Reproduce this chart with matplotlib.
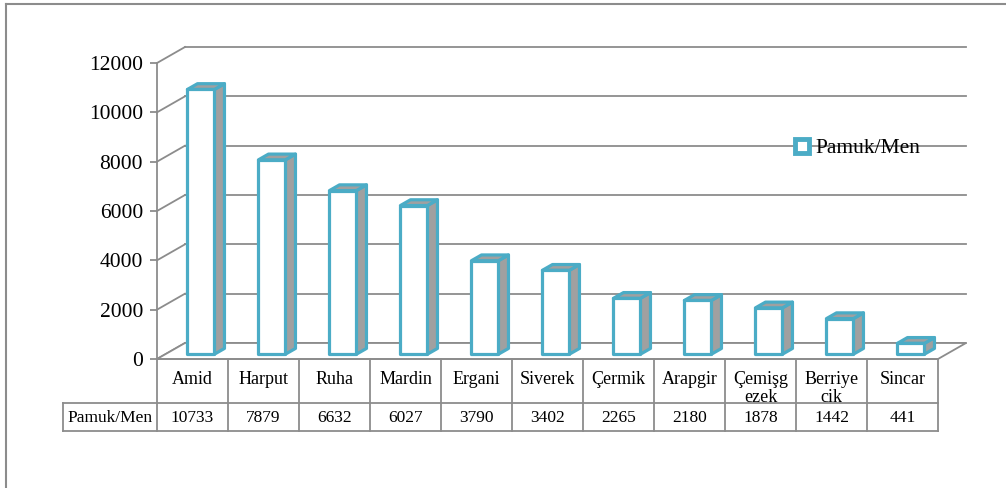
"""
Pamuk/Men bar chart with an Excel-like 3D look and a data table below.
"""

import matplotlib
matplotlib.use("Agg")
import matplotlib.pyplot as plt
from matplotlib.patches import Rectangle, Polygon
from matplotlib.lines import Line2D
from matplotlib.transforms import blended_transform_factory

plt.rcParams["font.family"] = ["Liberation Serif", "DejaVu Serif"]

categories = ["Amid", "Harput", "Ruha", "Mardin", "Ergani", "Siverek", "Çermik",
              "Arapgir", "Çemişg\nezek", "Berriye\ncik", "Sincar"]
values = [10733, 7879, 6632, 6027, 3790, 3402, 2265, 2180, 1878, 1442, 441]
series_name = "Pamuk/Men"
yticks = [0, 2000, 4000, 6000, 8000, 10000, 12000]

W, H = 1006, 488
EDGE = "#4BACC6"
SIDE = "#A0A0A0"
GRID = "#8C8C8C"

fig = plt.figure(figsize=(W / 100, H / 100), dpi=100)
# plot area in pixels: x 157..938, y 63..359 (from top)
ax = fig.add_axes([157 / W, (H - 359) / H, (938 - 157) / W, (359 - 63) / H])
n = len(values)
ax.set_xlim(-0.5, n - 0.5)
ax.set_ylim(0, 12000)
ax.set_yticks(yticks)
ax.set_yticklabels([str(t) for t in yticks], fontsize=15.5)
ax.set_xticks([])
for s in ["top", "right", "bottom"]:
    ax.spines[s].set_visible(False)
ax.spines["left"].set_color(GRID)
ax.spines["left"].set_linewidth(1.3)
ax.tick_params(axis="y", length=5, width=1.3, color=GRID, pad=5)
ax.patch.set_visible(False)

# depth of the 3D box in data units
DX = 28 / 71
DY = 16 * 12000 / 296

# back wall gridlines and side wall diagonals
for t in yticks:
    ax.plot([-0.5 + DX, n - 0.5 + DX], [t + DY, t + DY], color=GRID, lw=1.3,
            clip_on=False, zorder=1)
    ax.plot([-0.5, -0.5 + DX], [t, t + DY], color=GRID, lw=1.3, clip_on=False, zorder=1)

# floor
floor = Polygon([(-0.5, 0), (-0.5 + DX, DY), (n - 0.5 + DX, DY), (n - 0.5, 0)],
                closed=True, facecolor="white", edgecolor=GRID, lw=1.3,
                clip_on=False, zorder=1)
ax.add_patch(floor)

# 3D bars
bw = 0.38
d0, dd = 0.3, 0.36
for i, v in enumerate(values):
    x0 = i - bw / 2 + d0 * DX
    y0 = d0 * DY
    ex, ey = dd * DX, dd * DY
    side = Polygon([(x0 + bw, y0), (x0 + bw + ex, y0 + ey), (x0 + bw + ex, y0 + ey + v),
                    (x0 + bw, y0 + v)], closed=True, facecolor=SIDE, edgecolor=EDGE,
                   lw=2.3, joinstyle="round", clip_on=False, zorder=3)
    top = Polygon([(x0, y0 + v), (x0 + bw, y0 + v), (x0 + bw + ex, y0 + v + ey),
                   (x0 + ex, y0 + v + ey)], closed=True, facecolor=SIDE, edgecolor=EDGE,
                  lw=2.3, joinstyle="round", clip_on=False, zorder=3)
    front = Rectangle((x0, y0), bw, v, facecolor="white", edgecolor=EDGE, lw=2.3,
                      joinstyle="round", clip_on=False, zorder=4)
    ax.add_patch(side)
    ax.add_patch(top)
    ax.add_patch(front)

# data table below the plot (x in data units, y in figure fraction)
tr = blended_transform_factory(ax.transData, fig.transFigure)
def fy(py):
    return (H - py) / H

row1_top, row1_bot, row2_bot = 359, 403, 431
tcol = "#8C8C8C"
for i in range(n + 1):
    x = i - 0.5
    fig.add_artist(Line2D([x, x], [fy(row1_top), fy(row2_bot)], transform=tr,
                          color=tcol, lw=1.3))
fig.add_artist(Line2D([-0.5, n - 0.5], [fy(row1_top), fy(row1_top)], transform=tr,
                      color=tcol, lw=1.3))
header_left = 63 / W
for py in (row1_bot, row2_bot):
    fig.add_artist(Line2D([header_left, 938 / W], [fy(py), fy(py)], color=tcol, lw=1.3))
fig.add_artist(Line2D([header_left, header_left], [fy(row1_bot), fy(row2_bot)],
                      color=tcol, lw=1.3))

for i, (c, v) in enumerate(zip(categories, values)):
    fig.text(i, fy(371), c, transform=tr, ha="center", va="top", fontsize=13,
             linespacing=1.05)
    fig.text(i, fy(418), str(v), transform=tr, ha="center", va="center", fontsize=12.5)
fig.text(110 / W, fy(418), series_name, ha="center", va="center", fontsize=12.5)

# legend
handle = Line2D([], [], marker="s", linestyle="none", markersize=10,
                markerfacecolor="white", markeredgecolor=EDGE, markeredgewidth=3.5)
fig.legend([handle], [series_name], loc="center left",
           bbox_to_anchor=(783 / W, fy(148)), frameon=False, fontsize=15.5,
           handlelength=0.8, handletextpad=0.2, borderpad=0)

# outer chart border
fig.add_artist(Line2D([6 / W, 6 / W], [0, fy(4)], color="#8C8C8C", lw=1.5))
fig.add_artist(Line2D([6 / W, 1], [fy(4), fy(4)], color="#8C8C8C", lw=1.5))

fig.savefig("out.png", dpi=100)
